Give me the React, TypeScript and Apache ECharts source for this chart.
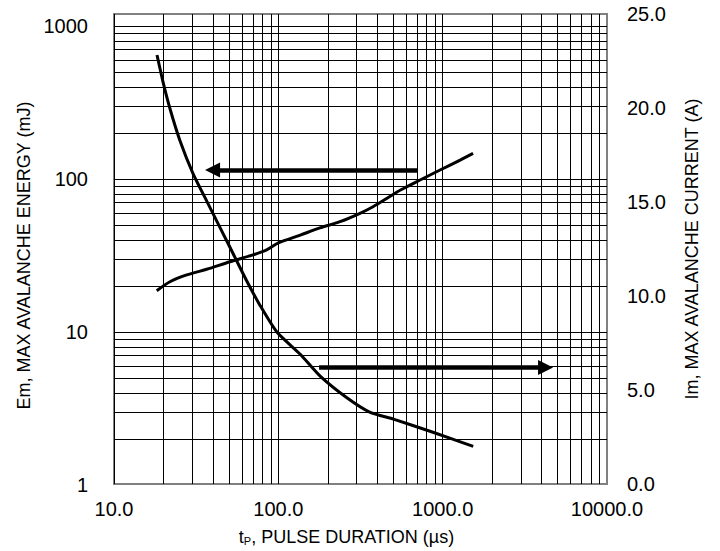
import React, { useEffect, useRef } from "react";
import * as echarts from "echarts";

// Pulse duration (µs) for the current curve and current values (A, right axis)
const currentT = [18.27, 19.87, 21.92, 25.21, 30.26, 36.81, 44.18, 53.02, 64.5, 77.4, 98.2, 136, 179, 260, 362, 502, 882, 1534];
const currentA = [22.82, 21.39, 19.96, 18.26, 16.51, 15.02, 13.64, 12.26, 10.77, 9.5, 8.07, 6.9, 5.75, 4.6, 3.81, 3.45, 2.74, 2.0];

// Pulse duration (µs) for the energy curve and energy values (mJ, left axis)
const energyT = [18.2, 21.9, 27.7, 36.6, 50.8, 70.1, 84.9, 100, 136, 179, 237, 314, 377, 459, 554, 729, 964, 1278, 1531];
const energyE = [18.6, 21.3, 23.6, 25.7, 28.8, 31.9, 34.4, 38.2, 43.0, 47.9, 52.6, 59.7, 65.9, 74.8, 84.7, 98.5, 114.5, 133, 147];

// Minor log grid values
const xMinor = [20, 30, 40, 50, 60, 70, 80, 90, 200, 300, 400, 500, 600, 700, 800, 900, 2000, 3000, 4000, 5000, 6000, 7000, 8000, 9000];
const yMinor = [2, 3, 4, 5, 6, 7, 8, 9, 20, 30, 40, 50, 60, 70, 80, 90, 200, 300, 400, 500, 600, 700, 800, 900];

// Annotation arrows (data space)
const energyArrowFrom = [708, 114.5];
const energyArrowTo = [39.8, 114.5];
const currentArrowFrom = [177, 6.2];
const currentArrowTo = [4227, 6.2];

const FONT = "'Liberation Sans', Arial, sans-serif";

export default function App() {
  const ref = useRef<HTMLDivElement>(null);
  useEffect(() => {
    if (!ref.current) return;
    const chart = echarts.init(ref.current, undefined, { renderer: "svg" });
    const labelStyle = { fontSize: 20, color: "#000", fontFamily: FONT };
    const nameStyle = { fontSize: 18, color: "#000", fontFamily: FONT };
    const option: any = {
      animation: false,
      backgroundColor: "#fff",
      grid: [
        { left: 114, right: 113, top: 14, bottom: 66, show: true, borderColor: "#808080", borderWidth: 2, backgroundColor: "transparent" },
        { left: 114, right: 113, top: 26, bottom: 66, show: false },
      ],
      xAxis: [
        {
          type: "log",
          logBase: 10,
          gridIndex: 0,
          min: 10,
          max: 10000,
          axisLine: { show: false },
          axisTick: { show: false },
          splitLine: { show: true, showMaxLine: false, lineStyle: { color: "#000", width: 1 } },
          axisLabel: { ...labelStyle, margin: 15, formatter: (v: number) => Math.round(v).toFixed(1) },
          name: "{a|t}{s|P}{a|, PULSE DURATION (µs)}",
          nameLocation: "middle",
          nameGap: 44,
          nameTextStyle: {
            ...nameStyle,
            padding: [0, 28, 0, 0],
            rich: {
              a: { fontSize: 18, color: "#000", fontFamily: FONT },
              s: { fontSize: 11, color: "#000", fontFamily: FONT, verticalAlign: "bottom" },
            },
          },
        },
        { type: "log", logBase: 10, gridIndex: 1, min: 10, max: 10000, show: false, splitLine: { show: false } },
      ],
      yAxis: [
        {
          type: "value",
          gridIndex: 0,
          position: "right",
          min: 0,
          max: 25,
          interval: 5,
          axisLine: { show: false },
          axisTick: { show: false },
          splitLine: { show: false },
          axisLabel: { ...labelStyle, margin: 20, formatter: (v: number) => v.toFixed(1) },
          name: "Im, MAX AVALANCHE CURRENT (A)",
          nameLocation: "middle",
          nameGap: 76,
          nameTextStyle: nameStyle,
        },
        {
          type: "log",
          logBase: 10,
          gridIndex: 1,
          position: "left",
          min: 1,
          max: 1000,
          axisLine: { show: false },
          axisTick: { show: false },
          splitLine: { show: true, showMinLine: false, lineStyle: { color: "#000", width: 1 } },
          axisLabel: { ...labelStyle, margin: 26, formatter: (v: number) => String(Math.round(v)) },
          name: "Em, MAX AVALANCHE ENERGY (mJ)",
          nameLocation: "middle",
          nameGap: 80,
          nameTextStyle: nameStyle,
        },
      ],
      series: [
        {
          type: "line",
          xAxisIndex: 0,
          yAxisIndex: 0,
          data: [],
          z: 1,
          silent: true,
          markLine: {
            silent: true,
            symbol: ["none", "none"],
            label: { show: false },
            lineStyle: { color: "#000", width: 1, type: "solid" },
            emphasis: { disabled: true },
            data: xMinor.map((v) => ({ xAxis: v })),
          },
        },
        {
          type: "line",
          xAxisIndex: 1,
          yAxisIndex: 1,
          data: [],
          z: 1,
          silent: true,
          markLine: {
            silent: true,
            symbol: ["none", "none"],
            label: { show: false },
            lineStyle: { color: "#000", width: 1, type: "solid" },
            emphasis: { disabled: true },
            data: yMinor.map((v) => ({ yAxis: v })),
          },
        },
        {
          name: "Current",
          type: "line",
          xAxisIndex: 0,
          yAxisIndex: 0,
          z: 3,
          smooth: 0.2,
          showSymbol: false,
          lineStyle: { color: "#000", width: 3 },
          data: currentT.map((t, i) => [t, currentA[i]]),
        },
        {
          name: "Energy",
          type: "line",
          xAxisIndex: 1,
          yAxisIndex: 1,
          z: 3,
          smooth: 0.3,
          showSymbol: false,
          lineStyle: { color: "#000", width: 3 },
          data: energyT.map((t, i) => [t, energyE[i]]),
        },
        {
          type: "line",
          xAxisIndex: 1,
          yAxisIndex: 1,
          data: [],
          z: 4,
          silent: true,
          markLine: {
            silent: true,
            symbol: ["none", "triangle"],
            symbolSize: 15,
            label: { show: false },
            itemStyle: { color: "#000" },
            lineStyle: { color: "#000", width: 4.5, type: "solid" },
            emphasis: { disabled: true },
            data: [[{ coord: energyArrowFrom }, { coord: energyArrowTo }]],
          },
        },
        {
          type: "line",
          xAxisIndex: 0,
          yAxisIndex: 0,
          data: [],
          z: 4,
          silent: true,
          markLine: {
            silent: true,
            symbol: ["none", "triangle"],
            symbolSize: 15,
            label: { show: false },
            itemStyle: { color: "#000" },
            lineStyle: { color: "#000", width: 4.5, type: "solid" },
            emphasis: { disabled: true },
            data: [[{ coord: currentArrowFrom }, { coord: currentArrowTo }]],
          },
        },
      ],
    };
    chart.setOption(option);
    return () => chart.dispose();
  }, []);
  return <div ref={ref} style={{ position: "fixed", left: 0, top: 0, width: 720, height: 551 }} />;
}
